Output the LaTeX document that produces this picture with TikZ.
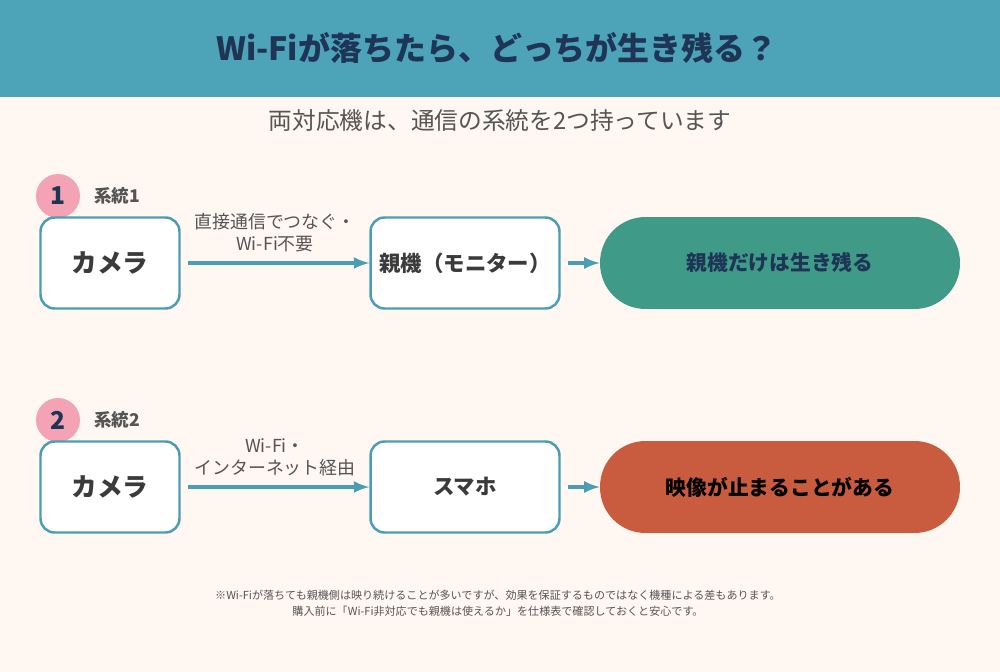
\documentclass[tikz,border=0pt]{standalone}
\usepackage{fontspec}
\setmainfont{Noto Sans CJK JP}
\usetikzlibrary{positioning}
\definecolor{bg}{HTML}{FFF7F1}
\definecolor{head}{HTML}{4DA3B8}
\definecolor{navy}{HTML}{1E3556}
\definecolor{frame}{HTML}{4A9DB5}
\definecolor{okgreen}{HTML}{3F9A88}
\definecolor{ngred}{HTML}{C95B3E}
\definecolor{pinkc}{HTML}{F4A3B4}
\definecolor{txt}{HTML}{555555}
\begin{document}
\begin{tikzpicture}[x=0.02cm,y=-0.02cm,>=latex]
    \tikzstyle{box}=[rectangle,draw=frame,line width=1.4pt,fill=white,rounded corners=8pt,minimum width=2.78cm,minimum height=1.82cm,text=txt!70!black,font=\bfseries]
    \tikzstyle{pill}=[rectangle,rounded corners=0.91cm,minimum width=7.2cm,minimum height=1.84cm,font=\bfseries\fontsize{11.8}{14}\selectfont]
    \tikzstyle{num}=[circle,fill=pinkc,minimum size=0.88cm,inner sep=0pt,text=navy,font=\bfseries\fontsize{14}{16}\selectfont]
    \tikzstyle{tag}=[text=txt,font=\bfseries\fontsize{10}{12}\selectfont]
    \tikzstyle{lbl}=[text=txt,align=center,font=\fontsize{10.2}{12.5}\selectfont]
    \tikzstyle{link}=[->,draw=frame,line width=2pt,shorten <=4pt]
    \fill[bg] (0,0) rectangle (1000,672);
    \fill[head] (0,0) rectangle (1000,97);
    \node[text=navy,font=\bfseries\fontsize{18.2}{22}\selectfont] (title) at (497,48) {Wi-Fiが落ちたら、どっちが生き残る？};
    \node[text=txt,font=\fontsize{13.5}{16}\selectfont] (sub) at (500,121) {両対応機は、通信の系統を2つ持っています};
    % 系統1
    \node[num] (n1) at (58,196) {1};
    \node[tag,anchor=west] (t1) at (88,196) {系統1};
    \node[box,font=\bfseries\fontsize{14.6}{17}\selectfont] (cam1) at (110,263) {カメラ};
    \node[box,minimum width=3.78cm,font=\bfseries\fontsize{12.2}{14}\selectfont] (mon) at (465,263) {親機（モニター）};
    \node[pill,fill=okgreen,text=navy] (ok) at (780,263) {親機だけは生き残る};
    \draw[link] (cam1) -- node[lbl,above=2pt] {直接通信でつなぐ・\\Wi-Fi不要} (mon);
    \draw[link] (mon) -- (ok);
    % 系統2
    \node[num] (n2) at (58,420) {2};
    \node[tag,anchor=west] (t2) at (88,420) {系統2};
    \node[box,font=\bfseries\fontsize{14.6}{17}\selectfont] (cam2) at (110,487) {カメラ};
    \node[box,minimum width=3.78cm,font=\bfseries\fontsize{12.2}{14}\selectfont] (phone) at (465,487) {スマホ};
    \node[pill,fill=ngred,text=black] (ng) at (780,487) {映像が止まることがある};
    \draw[link] (cam2) -- node[lbl,above=2pt] {Wi-Fi・\\インターネット経由} (phone);
    \draw[link] (phone) -- (ng);
    \node[text=txt,align=center,font=\fontsize{6.3}{9}\selectfont] (note) at (498,603) {※Wi-Fiが落ちても親機側は映り続けることが多いですが、効果を保証するものではなく機種による差もあります。\\購入前に「Wi-Fi非対応でも親機は使えるか」を仕様表で確認しておくと安心です。};
\end{tikzpicture}
\end{document}
